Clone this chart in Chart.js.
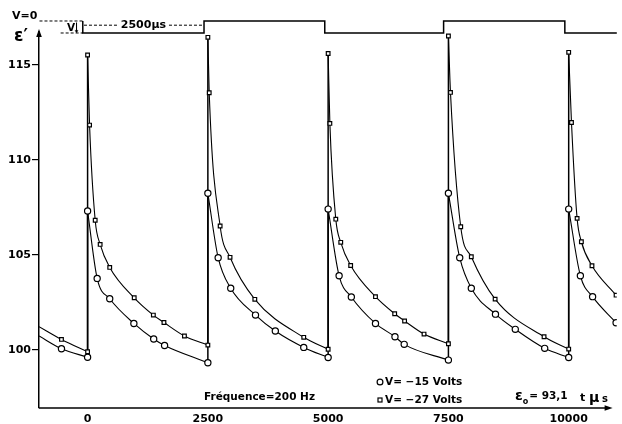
<!DOCTYPE html>
<html><head><meta charset="utf-8">
<script src="https://cdn.jsdelivr.net/npm/chart.js@4"></script>
<style>html,body{margin:0;padding:0;background:#fff}canvas{display:block}</style>
</head><body>
<canvas id="c" width="622" height="424"></canvas>
<script>
// ---- data ----
// V = -15 Volts (circles): time in µs, ε'
const tC = [-543, 0, 0, 199, 460, 962, 1374, 1600, 2500,
            2500, 2714, 2975, 3490, 3902, 4493, 5000,
            5000, 5228, 5482, 5984, 6389, 6581, 7500,
            7500, 7735, 7976, 8478, 8890, 9501, 10000,
            10000, 10243, 10497, 10985];
const eC = [100.07, 99.62, 107.32, 103.77, 102.70, 101.40, 100.58, 100.24, 99.33,
            108.25, 104.86, 103.25, 101.84, 101.00, 100.14, 99.61,
            107.42, 103.91, 102.79, 101.40, 100.70, 100.30, 99.47,
            108.25, 104.86, 103.25, 101.89, 101.09, 100.09, 99.61,
            107.42, 103.91, 102.81, 101.44];
// V = -27 Volts (squares)
const tS = [-543, 0, 0, 41, 158, 261, 460, 969, 1367, 1587, 2013, 2500,
            2500, 2528, 2755, 2961, 3476, 4493, 5000,
            5000, 5036, 5159, 5262, 5468, 5984, 6383, 6589, 6993, 7500,
            7500, 7543, 7756, 7976, 8471, 9488, 10000,
            10000, 10058, 10175, 10264, 10484, 10985];
const eS = [100.56, 99.91, 115.53, 111.84, 106.83, 105.56, 104.35, 102.75, 101.84, 101.45, 100.74, 100.26,
            116.46, 113.54, 106.53, 104.88, 102.67, 100.67, 100.04,
            115.61, 111.93, 106.89, 105.67, 104.45, 102.81, 101.91, 101.53, 100.84, 100.33,
            116.53, 113.56, 106.49, 104.91, 102.68, 100.70, 100.05,
            115.67, 111.98, 106.93, 105.70, 104.44, 102.89];
// curves start at the left axis
const edgeT = -1010;
const edgeC = 100.74;
const edgeS = 101.23;
// applied voltage waveform (schematic, in units of V)
const waveT = [-100, -100, 2420, 4930, 7400, 9920, 11000];
const waveV = [0, -1, 0, -1, 0, -1, -1];
const zeroRefT = [-1000, -100];      // dashed "V=0" reference
const vRefT = [-560, -100];          // dashed "V" level
const periodT = [-75, 2395];         // "2500 µs" dimension
const xTicks = [0, 2500, 5000, 7500, 10000];
const yTicks = [100, 105, 110, 115];
const seriesLabels = ['V= \u221215 Volts', 'V= \u221227 Volts'];

// ---- helpers ----
const FONT = '"DejaVu Sans", "Liberation Sans", sans-serif';
const pts = (t, v) => t.map((x, i) => ({x, y: v[i]}));
function splitSeries(t, v, e0t, e0v) {
  const all = [{x: e0t, y: e0v}, ...pts(t, v)];
  const segs = [], jumps = [];
  let cur = [all[0]];
  for (let i = 1; i < all.length; i++) {
    if (all[i].x === all[i - 1].x) {
      segs.push(cur);
      jumps.push(all[i - 1], all[i], {x: all[i].x, y: null});
      cur = [all[i]];
    } else cur.push(all[i]);
  }
  segs.push(cur);
  return {segs, jumps};
}

const datasets = [];
datasets.push({label: seriesLabels[0], data: pts(tC, eC), showLine: false, pointStyle: 'circle',
  pointRadius: 3.1, pointBorderWidth: 1.2, pointBackgroundColor: '#fff', pointBorderColor: '#000', order: 0});
datasets.push({label: seriesLabels[1], data: pts(tS, eS), showLine: false, pointStyle: 'rect',
  pointRadius: 2.6, pointBorderWidth: 1.2, pointBackgroundColor: '#fff', pointBorderColor: '#000', order: 0});
[[tC, eC, edgeT, edgeC], [tS, eS, edgeT, edgeS]].forEach(([t, v, a, b]) => {
  const {segs, jumps} = splitSeries(t, v, a, b);
  segs.forEach(s => datasets.push({data: s, borderColor: '#000', borderWidth: 1.1, pointRadius: 0,
    cubicInterpolationMode: 'monotone', order: 2}));
  datasets.push({data: jumps, borderColor: '#000', borderWidth: 1.5, pointRadius: 0, tension: 0,
    spanGaps: false, order: 1});
});
// waveform & its annotations
datasets.push({data: pts(waveT, waveV), yAxisID: 'yV', stepped: true, borderColor: '#000',
  borderWidth: 1.5, pointRadius: 0, clip: false, order: 3});
datasets.push({data: pts(zeroRefT, [0, 0]), yAxisID: 'yV', borderColor: '#000', borderWidth: 1,
  borderDash: [3, 2], pointRadius: 0, clip: false, order: 3});
datasets.push({data: pts(vRefT, [-1, -1]), yAxisID: 'yV', borderColor: '#000', borderWidth: 1,
  borderDash: [3, 2], pointRadius: 0, clip: false, order: 3});
datasets.push({data: pts([-230, -230], [-0.15, -0.85]), yAxisID: 'yV', borderColor: '#000', borderWidth: 1,
  pointStyle: 'triangle', pointRotation: [0, 180], pointRadius: 1.6, pointBackgroundColor: '#000',
  pointBorderColor: '#000', pointBorderWidth: 0.5, clip: false, order: 3});
datasets.push({data: pts(periodT, [-0.35, -0.35]), yAxisID: 'yV', borderColor: '#000', borderWidth: 1,
  borderDash: [3, 2], pointStyle: 'triangle', pointRotation: [-90, 90], pointRadius: 2.3,
  pointBackgroundColor: '#000', pointBorderColor: '#000', pointBorderWidth: 0.5, clip: false, order: 3});

function txt(ctx, s, x, y, size, align, italic) {
  ctx.font = (italic ? 'italic ' : '') + 'bold ' + size + 'px ' + FONT;
  ctx.textAlign = align || 'left';
  ctx.textBaseline = 'middle';
  ctx.fillStyle = '#000';
  ctx.fillText(s, x, y);
  return ctx.measureText(s).width;
}

const decor = {
  id: 'decor',
  afterDatasetsDraw(chart) {
    const ctx = chart.ctx, a = chart.chartArea;
    const xs = chart.scales.x, ys = chart.scales.yV;
    ctx.save();
    ctx.strokeStyle = '#000'; ctx.fillStyle = '#000';
    // x axis line with arrow
    const xEnd = xs.getPixelForValue(10830);
    ctx.lineWidth = 1.5;
    ctx.beginPath(); ctx.moveTo(a.left, a.bottom); ctx.lineTo(xEnd, a.bottom); ctx.stroke();
    ctx.beginPath(); ctx.moveTo(xEnd + 4, a.bottom); ctx.lineTo(xEnd - 4, a.bottom - 2.8);
    ctx.lineTo(xEnd - 4, a.bottom + 2.8); ctx.closePath(); ctx.fill();
    // y axis arrow
    ctx.beginPath(); ctx.moveTo(a.left, a.top - 3); ctx.lineTo(a.left - 2.8, a.top + 5);
    ctx.lineTo(a.left + 2.8, a.top + 5); ctx.closePath(); ctx.fill();

    // top texts
    txt(ctx, 'V=0', 12, 16, 11);
    txt(ctx, '\u03b5\u2032', 14, 37, 17);
    txt(ctx, 'V', 67, 28, 10.5);
    // period label with white gap
    const px = (xs.getPixelForValue(periodT[0]) + xs.getPixelForValue(periodT[1])) / 2;
    const py = ys.getPixelForValue(-0.35);
    ctx.font = 'bold 11px ' + FONT;
    const w = ctx.measureText('2500\u00b5s').width;
    ctx.fillStyle = '#fff';
    ctx.fillRect(px - w / 2 - 2, py - 6, w + 4, 12);
    txt(ctx, '2500\u00b5s', px, py, 11, 'center');

    // bottom texts
    txt(ctx, 'Fr\u00e9quence=200 Hz', 204, 397, 10.5);
    // legend
    ctx.lineWidth = 1.2;
    ctx.fillStyle = '#fff';
    ctx.beginPath(); ctx.arc(380, 382, 2.9, 0, Math.PI * 2); ctx.fill(); ctx.stroke();
    ctx.fillRect(378, 398, 4, 4); ctx.strokeRect(378, 398, 4, 4);
    txt(ctx, chart.data.datasets[0].label, 385, 382, 10.5);
    txt(ctx, chart.data.datasets[1].label, 385, 400, 10.5);
    // epsilon_0
    let x0 = 515;
    x0 += txt(ctx, '\u03b5', x0, 396, 14);
    x0 += txt(ctx, 'o', x0, 402, 8);
    txt(ctx, '= 93,1', x0 + 1, 396, 10.5);
    // t µs
    txt(ctx, 't', 580, 398, 11);
    txt(ctx, '\u00b5', 589, 398, 14);
    txt(ctx, 's', 602, 399, 10);
    ctx.restore();
  }
};

new Chart(document.getElementById('c'), {
  type: 'line',
  data: {datasets},
  options: {
    responsive: false, animation: false, devicePixelRatio: 1, events: [],
    layout: {padding: {top: 32, left: 0, right: 0, bottom: 0}},
    plugins: {legend: {display: false}, tooltip: {enabled: false}},
    scales: {
      x: {
        type: 'linear', min: -1010, max: 11000,
        afterBuildTicks: s => { s.ticks = xTicks.map(v => ({value: v})); },
        afterFit: s => { s.height = 16; },
        grid: {display: false, drawTicks: false},
        border: {display: false},
        ticks: {color: '#000', padding: 5, maxRotation: 0, autoSkip: false,
          callback: v => String(v),
          font: {family: FONT, size: 11, weight: 'bold'}}
      },
      y: {
        type: 'linear', min: 96.95, max: 116.74,
        afterBuildTicks: s => { s.ticks = yTicks.map(v => ({value: v})); },
        afterFit: s => { s.width = 39; },
        grid: {display: true, drawOnChartArea: false, drawTicks: true, tickLength: 7, color: '#000', lineWidth: 1.2},
        border: {display: true, color: '#000', width: 1.5},
        ticks: {color: '#000', padding: 1, callback: v => String(v),
          font: {family: FONT, size: 11, weight: 'bold'}}
      },
      yV: {type: 'linear', display: false, min: -32.25, max: -0.917}
    }
  },
  plugins: [decor]
});
</script>
</body></html>
